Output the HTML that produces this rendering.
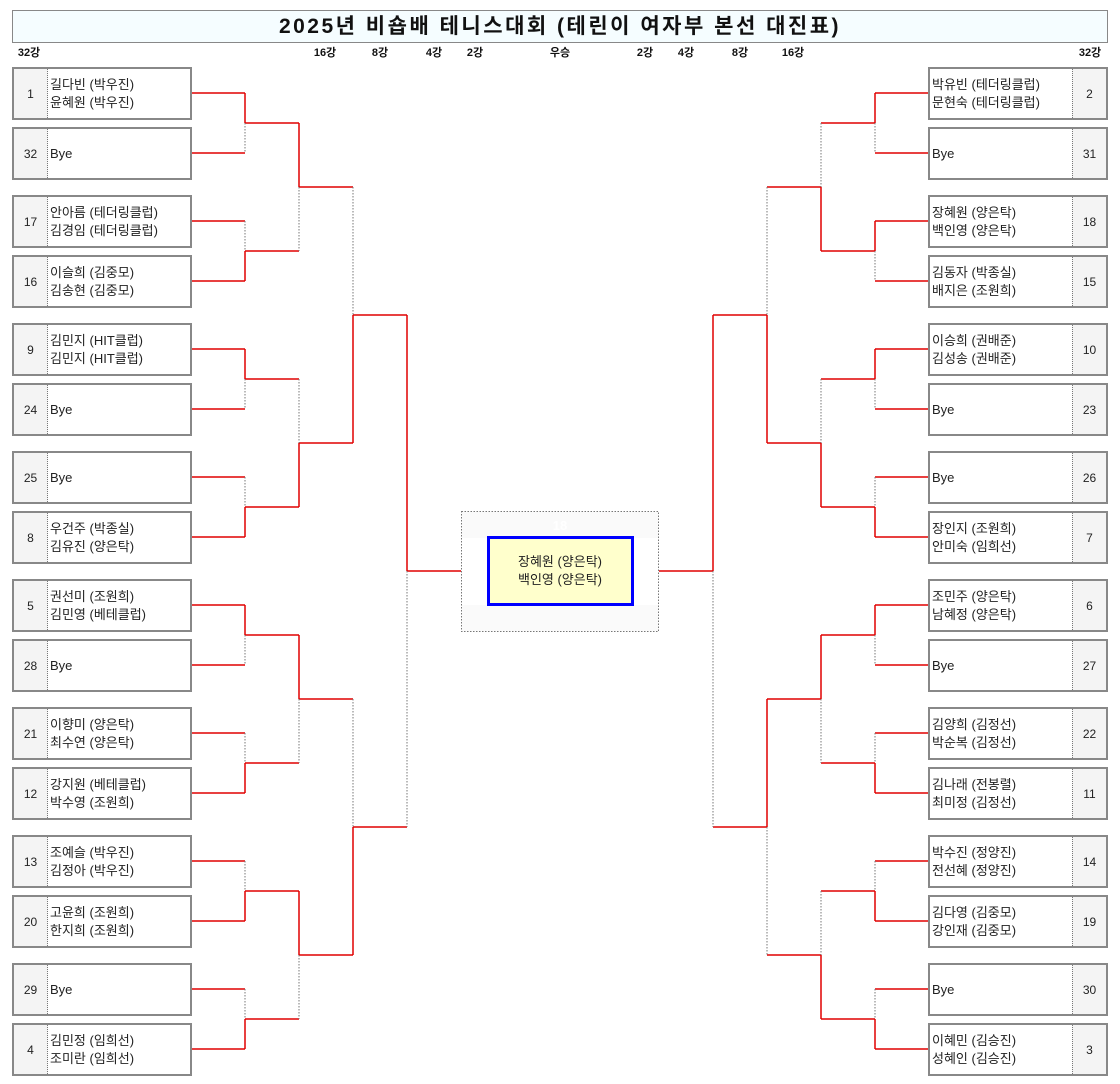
<!DOCTYPE html>
<html><head><meta charset="utf-8">
<style>
body{margin:0;width:1120px;height:1084px;background:#fff;position:relative;font-family:"Liberation Sans","Noto Sans CJK KR",sans-serif;overflow:hidden}
.title{position:absolute;left:12px;top:10px;width:1096px;height:33px;box-sizing:border-box;border:1px solid #888;background:#f5fdff;text-align:center;font-weight:bold;font-size:21px;line-height:32px;letter-spacing:2.5px;color:#111}
.rl{position:absolute;top:44px;font-size:11px;font-weight:bold;color:#111;transform:translateX(-50%)}
.b{position:absolute;width:180px;height:53px;box-sizing:border-box;border:2px solid #888;background:#fff;display:flex;font-size:13px;color:#222}
.n{width:33px;background:#f4f4f4;display:flex;align-items:center;justify-content:center;font-size:12px;flex:none}
.t{flex:1;display:flex;flex-direction:column;justify-content:center;padding-left:2px;line-height:18px;white-space:nowrap}
.L .n{border-right:1px dotted #777}
.R{flex-direction:row-reverse}
.R .n{border-left:1px dotted #777}
svg{position:absolute;left:0;top:0}
</style></head><body>
<div class="title">2025년 비숍배 테니스대회 (테린이 여자부 본선 대진표)</div>
<div class="rl" style="left:29px">32강</div>
<div class="rl" style="left:325px">16강</div>
<div class="rl" style="left:380px">8강</div>
<div class="rl" style="left:434px">4강</div>
<div class="rl" style="left:475px">2강</div>
<div class="rl" style="left:560px">우승</div>
<div class="rl" style="left:645px">2강</div>
<div class="rl" style="left:686px">4강</div>
<div class="rl" style="left:740px">8강</div>
<div class="rl" style="left:793px">16강</div>
<div class="rl" style="left:1090px">32강</div>

<svg width="1120" height="1084">
<g fill="none" stroke="#e00000" stroke-width="1.5">
<path d="M191 93H245M191 153H245M191 221H245M191 281H245M191 349H245M191 409H245M191 477H245M191 537H245M191 605H245M191 665H245M191 733H245M191 793H245M191 861H245M191 921H245M191 989H245M191 1049H245
M245 93V123M245 251V281M245 349V379M245 507V537M245 605V635M245 763V793M245 891V921M245 1019V1049
M245 123H299M245 251H299M245 379H299M245 507H299M245 635H299M245 763H299M245 891H299M245 1019H299
M299 123V187M299 443V507M299 635V699M299 891V955
M299 187H353M299 443H353M299 699H353M299 955H353
M353 315V443M353 827V955
M353 315H407M353 827H407M407 315V571M407 571H461"/>
<path d="M929 93H875M929 153H875M929 221H875M929 281H875M929 349H875M929 409H875M929 477H875M929 537H875M929 605H875M929 665H875M929 733H875M929 793H875M929 861H875M929 921H875M929 989H875M929 1049H875
M875 93V123M875 221V251M875 349V379M875 507V537M875 605V635M875 763V793M875 891V921M875 1019V1049
M875 123H821M875 251H821M875 379H821M875 507H821M875 635H821M875 763H821M875 891H821M875 1019H821
M821 187V251M821 443V507M821 635V699M821 955V1019
M821 187H767M821 443H767M821 699H767M821 955H767
M767 315V443M767 699V827
M767 315H713M767 827H713M713 315V571M713 571H659"/>
</g>
<g fill="none" stroke="#777" stroke-width="1" stroke-dasharray="1.5,1.5">
<path d="M245 123V153M245 221V251M245 379V409M245 477V507M245 635V665M245 733V763M245 861V891M245 989V1019
M299 187V251M299 379V443M299 699V763M299 955V1019
M353 187V315M353 699V827M407 571V827"/>
<path d="M875 123V153M875 251V281M875 379V409M875 477V507M875 635V665M875 733V763M875 861V891M875 989V1019
M821 123V187M821 379V443M821 699V763M821 891V955
M767 187V315M767 827V955M713 571V827"/>
<rect x="461.5" y="511.5" width="197" height="120" fill="#fafafa"/>
</g>
<rect x="462" y="538" width="196" height="67" fill="#fff"/>
<text x="560" y="530" fill="#fff" font-size="13" font-weight="bold" text-anchor="middle" font-family="Liberation Sans">18</text>
<rect x="488.5" y="537.5" width="144" height="67" fill="#ffffcc" stroke="#0000ff" stroke-width="3"/>
<text x="560" y="566" font-size="13" fill="#222" text-anchor="middle" font-family="Liberation Sans, Noto Sans CJK KR, sans-serif">장혜원 (양은탁)</text>
<text x="560" y="584" font-size="13" fill="#222" text-anchor="middle" font-family="Liberation Sans, Noto Sans CJK KR, sans-serif">백인영 (양은탁)</text>
</svg>

<div class="b L" style="left:12px;top:67px"><div class="n">1</div><div class="t"><div>길다빈 (박우진)</div><div>윤혜원 (박우진)</div></div></div>
<div class="b L" style="left:12px;top:127px"><div class="n">32</div><div class="t"><div>Bye</div></div></div>
<div class="b L" style="left:12px;top:195px"><div class="n">17</div><div class="t"><div>안아름 (테더링클럽)</div><div>김경임 (테더링클럽)</div></div></div>
<div class="b L" style="left:12px;top:255px"><div class="n">16</div><div class="t"><div>이슬희 (김중모)</div><div>김송현 (김중모)</div></div></div>
<div class="b L" style="left:12px;top:323px"><div class="n">9</div><div class="t"><div>김민지 (HIT클럽)</div><div>김민지 (HIT클럽)</div></div></div>
<div class="b L" style="left:12px;top:383px"><div class="n">24</div><div class="t"><div>Bye</div></div></div>
<div class="b L" style="left:12px;top:451px"><div class="n">25</div><div class="t"><div>Bye</div></div></div>
<div class="b L" style="left:12px;top:511px"><div class="n">8</div><div class="t"><div>우건주 (박종실)</div><div>김유진 (양은탁)</div></div></div>
<div class="b L" style="left:12px;top:579px"><div class="n">5</div><div class="t"><div>권선미 (조원희)</div><div>김민영 (베테클럽)</div></div></div>
<div class="b L" style="left:12px;top:639px"><div class="n">28</div><div class="t"><div>Bye</div></div></div>
<div class="b L" style="left:12px;top:707px"><div class="n">21</div><div class="t"><div>이향미 (양은탁)</div><div>최수연 (양은탁)</div></div></div>
<div class="b L" style="left:12px;top:767px"><div class="n">12</div><div class="t"><div>강지원 (베테클럽)</div><div>박수영 (조원희)</div></div></div>
<div class="b L" style="left:12px;top:835px"><div class="n">13</div><div class="t"><div>조예슬 (박우진)</div><div>김정아 (박우진)</div></div></div>
<div class="b L" style="left:12px;top:895px"><div class="n">20</div><div class="t"><div>고윤희 (조원희)</div><div>한지희 (조원희)</div></div></div>
<div class="b L" style="left:12px;top:963px"><div class="n">29</div><div class="t"><div>Bye</div></div></div>
<div class="b L" style="left:12px;top:1023px"><div class="n">4</div><div class="t"><div>김민정 (임희선)</div><div>조미란 (임희선)</div></div></div>

<div class="b R" style="left:928px;top:67px"><div class="n">2</div><div class="t"><div>박유빈 (테더링클럽)</div><div>문현숙 (테더링클럽)</div></div></div>
<div class="b R" style="left:928px;top:127px"><div class="n">31</div><div class="t"><div>Bye</div></div></div>
<div class="b R" style="left:928px;top:195px"><div class="n">18</div><div class="t"><div>장혜원 (양은탁)</div><div>백인영 (양은탁)</div></div></div>
<div class="b R" style="left:928px;top:255px"><div class="n">15</div><div class="t"><div>김동자 (박종실)</div><div>배지은 (조원희)</div></div></div>
<div class="b R" style="left:928px;top:323px"><div class="n">10</div><div class="t"><div>이승희 (권배준)</div><div>김성송 (권배준)</div></div></div>
<div class="b R" style="left:928px;top:383px"><div class="n">23</div><div class="t"><div>Bye</div></div></div>
<div class="b R" style="left:928px;top:451px"><div class="n">26</div><div class="t"><div>Bye</div></div></div>
<div class="b R" style="left:928px;top:511px"><div class="n">7</div><div class="t"><div>장인지 (조원희)</div><div>안미숙 (임희선)</div></div></div>
<div class="b R" style="left:928px;top:579px"><div class="n">6</div><div class="t"><div>조민주 (양은탁)</div><div>남혜정 (양은탁)</div></div></div>
<div class="b R" style="left:928px;top:639px"><div class="n">27</div><div class="t"><div>Bye</div></div></div>
<div class="b R" style="left:928px;top:707px"><div class="n">22</div><div class="t"><div>김양희 (김정선)</div><div>박순복 (김정선)</div></div></div>
<div class="b R" style="left:928px;top:767px"><div class="n">11</div><div class="t"><div>김나래 (전봉렬)</div><div>최미정 (김정선)</div></div></div>
<div class="b R" style="left:928px;top:835px"><div class="n">14</div><div class="t"><div>박수진 (정양진)</div><div>전선혜 (정양진)</div></div></div>
<div class="b R" style="left:928px;top:895px"><div class="n">19</div><div class="t"><div>김다영 (김중모)</div><div>강인재 (김중모)</div></div></div>
<div class="b R" style="left:928px;top:963px"><div class="n">30</div><div class="t"><div>Bye</div></div></div>
<div class="b R" style="left:928px;top:1023px"><div class="n">3</div><div class="t"><div>이혜민 (김승진)</div><div>성혜인 (김승진)</div></div></div>
</body></html>
